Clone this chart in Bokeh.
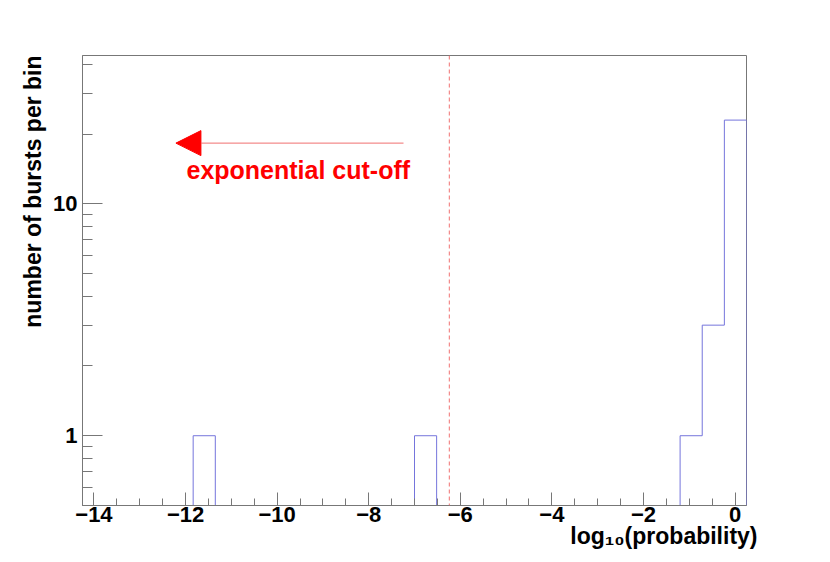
import math
from bokeh.plotting import figure
from bokeh.models import (Range1d, FixedTicker, Span, Arrow, NormalHead, Label, Title,
                          CustomJSTickFormatter)
from bokeh.embed import file_html
from bokeh.resources import INLINE

# ---------------- data ----------------
bin_low = -14.25
bin_high = 0.25
n_bins = 30
counts = [0, 0, 0, 0, 0, 1, 0, 0, 0, 0,
          0, 0, 0, 0, 0, 1, 0, 0, 0, 0,
          0, 0, 0, 0, 0, 0, 0, 1, 3, 23]
x_major_ticks = [-14, -12, -10, -8, -6, -4, -2, 0]
y_major_ticks = [1, 10]
cutoff_x = -6.24
arrow_from_x = -7.24
arrow_to_x = -12.21
arrow_y = 18.3
annotation_text = "exponential cut-off"
x_title = "log\u2081\u2080(probability)"
y_title = "number of bursts per bin"

y_min, y_max = 0.5, 43.7

# ---------------- layout ----------------
W, H = 830, 562
FL, FR, FT, FB = 82, 746, 55, 505  # frame edges in px


def dx(px):
    return bin_low + (px - FL) * (bin_high - bin_low) / (FR - FL)


def dy(py):
    lo, hi = math.log10(y_min), math.log10(y_max)
    return 10 ** (lo + (FB - py) * (hi - lo) / (FB - FT))


p = figure(width=W, height=H, output_backend="svg", toolbar_location=None,
           x_range=Range1d(bin_low, bin_high), y_range=Range1d(y_min, y_max),
           y_axis_type="log",
           min_border_left=FL, min_border_right=W - FR,
           min_border_top=FT, min_border_bottom=H - FB)
p.background_fill_color = "white"
p.border_fill_color = "white"
p.outline_line_color = "#777777"
p.outline_line_width = 1
p.xgrid.visible = False
p.ygrid.visible = False

# histogram outline
width = (bin_high - bin_low) / n_bins
edges = [bin_low + i * width for i in range(n_bins + 1)]
xs = [edges[0]]
ys = [y_min]
for i, c in enumerate(counts):
    h = max(c, y_min)
    xs += [edges[i], edges[i + 1]]
    ys += [h, h]
xs.append(edges[-1])
ys.append(y_min)
p.line(xs, ys, line_color="#7575dc", line_width=1)

# cut-off line
p.add_layout(Span(location=cutoff_x, dimension="height", line_color="#f07070",
                  line_width=1, line_dash="4 3"))

# arrow
p.add_layout(Arrow(end=NormalHead(size=25, fill_color="red", line_color="red"),
                   x_start=arrow_from_x, y_start=arrow_y, x_end=arrow_to_x, y_end=arrow_y,
                   line_color="#f07070", line_width=1))
p.add_layout(Label(x=dx(186), y=dy(169), text=annotation_text, text_color="red",
                   text_font="Liberation Sans", text_font_style="bold", text_font_size="25px",
                   text_align="left", text_baseline="alphabetic"))

# axes
xa = p.xaxis[0]
xa.ticker = FixedTicker(ticks=x_major_ticks,
                        minor_ticks=[-14 + 0.5 * k for k in range(29)])
xa.formatter = CustomJSTickFormatter(code="return tick < 0 ? '\\u2212' + Math.abs(tick) : tick.toString();")
ya = p.yaxis[0]
ya.ticker = FixedTicker(ticks=y_major_ticks,
                        minor_ticks=[0.5, 0.6, 0.7, 0.8, 0.9, 2, 3, 4, 5, 6, 7, 8, 9, 20, 30, 40])
ya.formatter = CustomJSTickFormatter(code="return tick.toString();")
for ax in (xa, ya):
    ax.axis_line_color = "#777777"
    ax.major_tick_line_color = "#777777"
    ax.minor_tick_line_color = "#777777"
    ax.major_tick_out = 0
    ax.minor_tick_out = 0
    ax.major_label_text_font = "Liberation Sans"
    ax.major_label_text_font_style = "bold"
    ax.major_label_text_font_size = "22px"
    ax.major_label_text_color = "black"
xa.major_tick_in = 13
xa.minor_tick_in = 7
xa.major_label_standoff = 1
ya.major_tick_in = 20
ya.minor_tick_in = 10
ya.major_label_standoff = 5

# axis titles
p.add_layout(Title(text=x_title, align="right", offset=-11, standoff=-7,
                   text_font="Liberation Sans", text_font_style="bold",
                   text_font_size="23px", text_color="black"), "below")
p.add_layout(Title(text=y_title, align="right", offset=0, standoff=10,
                   text_font="Liberation Sans", text_font_style="bold",
                   text_font_size="23px", text_color="black"), "left")

open("out.html", "w").write(file_html(p, INLINE))
